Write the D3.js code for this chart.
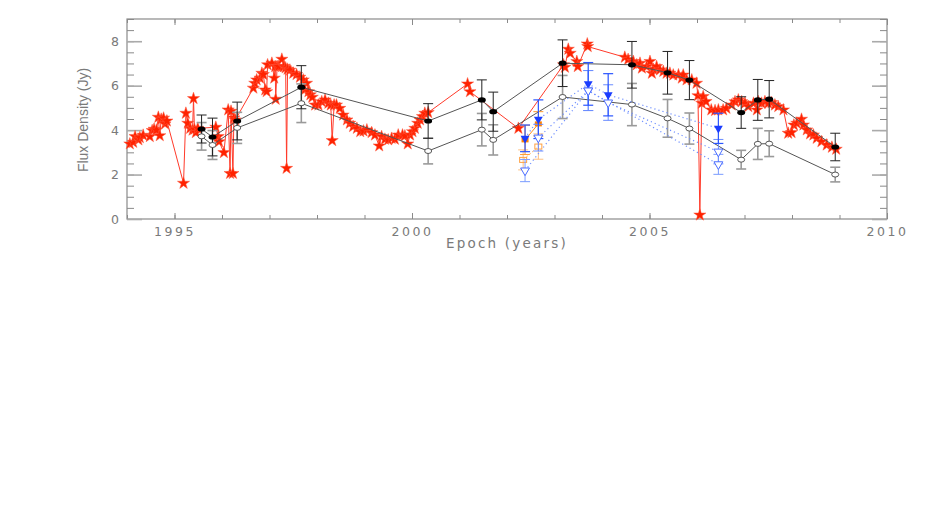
<!DOCTYPE html>
<html><head><meta charset="utf-8">
<script src="https://cdn.jsdelivr.net/npm/d3@7"></script>
<style>body{margin:0;background:#fff}svg{display:block}</style>
</head><body><svg id="c" width="926" height="518"></svg>
<script>
// ---- data ----
const epochs   = [1995.57,1995.80,1996.32,1997.67,2000.34,2001.47,2001.71,2003.17,2004.63,2005.38,2005.84,2006.93,2007.28,2007.52,2008.91];
const fluxTot  = [4.05,3.69,4.41,5.93,4.41,5.36,4.83,7.01,6.94,6.58,6.25,4.79,5.36,5.39,3.24];
const errTot   = [0.63,0.85,0.85,0.97,0.78,0.90,0.88,1.05,1.05,0.96,0.88,0.71,0.92,0.84,0.62];
const fluxCore = [3.72,3.33,4.10,5.21,3.06,4.02,3.56,5.49,5.15,4.53,4.07,2.67,3.38,3.39,2.00];
const errCore  = [0.62,0.65,0.70,0.87,0.58,0.73,0.68,0.97,0.95,0.85,0.70,0.42,0.70,0.58,0.33];

const blueEpochF = [2002.38,2002.66,2003.71,2004.13,2006.45];
const blueFluxF  = [3.63,4.49,6.08,5.59,4.08];
const blueErrF   = [0.60,0.87,0.96,0.95,0.68];
const blueEpochO = [2002.66,2003.71,2004.13,2006.45];
const blueFluxO  = [3.66,5.78,5.24,3.03];
const blueErrO   = [0.60,0.90,0.80,0.55];
const blueEpochO2= [2002.38,2003.71,2006.45];
const blueFluxO2 = [2.18,5.78,2.46];
const blueErrO2  = [0.50,0.90,0.45];

const orangeEpochF = [2002.38,2002.66];
const orangeFluxF  = [3.56,4.28];
const orangeErrF   = [0.66,0.55];
const orangeEpochO = [2002.34,2002.66];
const orangeFluxO  = [2.66,3.26];
const orangeErrO   = [0.45,0.57];

const redEpoch = [1994.06,1994.13,1994.17,1994.24,1994.27,1994.34,1994.48,1994.53,1994.57,1994.62,1994.66,1994.69,1994.72,1994.77,1994.80,1994.84,
 1995.19,1995.24,1995.28,1995.33,1995.38,1995.40,1995.42,1995.45,1995.49,1995.87,1995.92,1995.94,1996.04,1996.13,1996.17,1996.19,1996.23,1996.25,1996.28,
 1996.66,1996.69,1996.73,1996.80,1996.84,1996.87,1996.91,1996.94,1996.96,1997.05,1997.10,1997.12,1997.13,1997.16,1997.19,1997.26,1997.30,1997.34,1997.36,1997.38,
 1997.43,1997.50,1997.57,1997.64,1997.71,1997.74,1997.78,1997.82,1997.86,1997.90,1997.96,1998.03,1998.10,1998.17,1998.24,1998.29,1998.32,1998.36,1998.41,
 1998.48,1998.55,1998.63,1998.69,1998.76,1998.84,1998.91,1998.98,1999.05,1999.15,1999.22,1999.31,1999.36,1999.43,1999.50,1999.57,1999.64,1999.71,1999.80,
 1999.85,1999.91,1999.96,2000.01,2000.06,2000.12,2000.17,2000.22,2000.27,2000.34,2001.17,2001.22,2002.24,2003.19,2003.22,2003.29,2003.33,2003.47,2003.49,
 2003.69,2003.70,2004.48,2004.55,2004.66,2004.73,2004.80,2004.84,2004.94,2005.01,2005.05,2005.08,2005.15,2005.22,2005.29,2005.36,2005.43,2005.50,2005.61,
 2005.68,2005.71,2005.78,2005.89,2005.99,2006.02,2006.06,2006.10,2006.13,2006.19,2006.30,2006.38,2006.45,2006.55,2006.62,2006.73,2006.80,2006.87,2006.94,
 2007.01,2007.08,2007.19,2007.26,2007.29,2007.36,2007.43,2007.50,2007.57,2007.64,2007.71,2007.82,2007.92,2007.99,2008.04,2008.10,2008.20,2008.24,2008.31,
 2008.38,2008.45,2008.52,2008.62,2008.73,2008.84,2008.93];
const redFlux = [3.38,3.45,3.71,3.56,3.66,3.77,3.71,3.98,4.04,4.00,4.58,3.75,4.49,4.54,4.28,4.41,
 1.61,4.76,4.31,4.08,4.00,5.42,4.04,3.89,4.08,4.13,3.71,3.48,2.99,4.91,2.05,4.85,2.05,4.55,4.46,
 5.89,6.11,6.26,6.34,6.56,6.50,5.81,5.73,6.94,7.01,6.34,6.86,5.39,6.86,6.86,7.19,6.86,6.80,2.28,6.74,
 6.70,6.56,6.50,6.38,6.26,5.81,6.11,5.73,5.59,5.48,5.13,5.13,5.28,5.36,5.21,5.13,3.53,5.13,5.13,
 4.98,4.68,4.46,4.31,4.16,4.08,3.93,3.96,4.01,3.89,3.78,3.29,3.71,3.59,3.56,3.63,3.59,3.78,3.78,
 3.74,3.38,3.78,3.93,4.08,4.31,4.46,4.61,4.76,4.79,6.08,5.73,4.08,6.94,6.83,7.64,7.46,7.09,6.86,
 7.88,7.76,7.28,7.18,7.09,6.94,7.01,6.79,6.86,7.09,6.56,6.74,6.86,6.71,6.64,6.56,6.56,6.48,6.49,
 6.34,6.48,6.26,6.26,6.11,5.55,0.18,5.21,5.51,5.29,4.91,4.88,4.91,4.91,4.98,5.13,5.28,5.36,5.28,
 5.21,5.06,5.21,4.91,5.28,5.21,5.28,5.21,5.24,5.13,5.06,4.91,3.86,3.89,4.23,4.31,4.49,4.23,4.01,
 3.83,3.78,3.63,3.48,3.33,3.23,3.14];

const xMajor = [1995,2000,2005,2010];
const xMinor = d3.range(1994,2011,1);
const yMajor = [0,2,4,6,8];
const yMinor = d3.range(0,9.01,0.5);

// ---- layout ----
const svg = d3.select("#c");
const L=127,R=887,T=19,B=219;
const x = d3.scaleLinear().domain([1994,2010]).range([L,R]);
const y = d3.scaleLinear().domain([0,9]).range([B,T]);
const axisCol="#8a8a8a", textCol="#7a7a7a";

// frame
svg.append("rect").attr("x",L).attr("y",T).attr("width",R-L).attr("height",B-T)
  .attr("fill","none").attr("stroke",axisCol).attr("stroke-width",1.2);

function styleAxis(g){g.select(".domain").remove();g.selectAll("line").attr("stroke",axisCol);}
// x axes
svg.append("g").attr("transform",`translate(0,${B})`)
  .call(d3.axisBottom(x).tickValues(xMinor).tickSize(-4).tickFormat(""))
  .call(styleAxis);
svg.append("g").attr("transform",`translate(0,${B})`)
  .call(d3.axisBottom(x).tickValues(xMajor).tickSize(-6).tickPadding(8).tickFormat(d3.format("d")))
  .call(styleAxis)
  .call(g=>g.selectAll("text").attr("fill",textCol).attr("font-family","DejaVu Sans").attr("font-size",12.5).attr("letter-spacing","2.5px"));
svg.append("g").attr("transform",`translate(0,${T})`)
  .call(d3.axisTop(x).tickValues(xMinor).tickSize(-4).tickFormat("")).call(styleAxis);
svg.append("g").attr("transform",`translate(0,${T})`)
  .call(d3.axisTop(x).tickValues(xMajor).tickSize(-6).tickFormat("")).call(styleAxis);
// y axes
svg.append("g").attr("transform",`translate(${L},0)`)
  .call(d3.axisLeft(y).tickValues(yMinor).tickSize(-7).tickFormat("")).call(styleAxis);
svg.append("g").attr("transform",`translate(${L},0)`)
  .call(d3.axisLeft(y).tickValues(yMajor).tickSize(-15).tickPadding(8).tickFormat(d3.format("d")))
  .call(styleAxis)
  .call(g=>{g.selectAll("line").attr("stroke-width",1.6).attr("stroke","#aaa");
            g.selectAll("text").attr("fill",textCol).attr("font-family","DejaVu Sans").attr("font-size",12.5);});
svg.append("g").attr("transform",`translate(${R},0)`)
  .call(d3.axisRight(y).tickValues(yMinor).tickSize(-7).tickFormat("")).call(styleAxis);
svg.append("g").attr("transform",`translate(${R},0)`)
  .call(d3.axisRight(y).tickValues(yMajor).tickSize(-15).tickFormat("")).call(styleAxis)
  .call(g=>g.selectAll("line").attr("stroke-width",1.6).attr("stroke","#aaa"));

// titles
svg.append("text").attr("x",(L+R)/2).attr("y",248).attr("text-anchor","middle")
  .attr("font-family","DejaVu Sans").attr("font-size",13.5).attr("letter-spacing","2.2px")
  .attr("fill",textCol).text("Epoch (years)");
svg.append("text").attr("transform","translate(88,120) rotate(-90)").attr("text-anchor","middle")
  .attr("font-family","Liberation Sans Narrow, Liberation Sans").attr("font-size",14)
  .attr("fill",textCol).text("Flux Density (Jy)");

const plot = svg.append("g");
const line = d3.line().x(d=>x(d[0])).y(d=>y(d[1]));

function errBars(ex, fl, er, col, w){
  const g = plot.append("g").attr("stroke",col).attr("stroke-width",w);
  ex.forEach((e,i)=>{
    const cx=x(e), y1=y(fl[i]+er[i]), y2=y(fl[i]-er[i]);
    g.append("line").attr("x1",cx).attr("x2",cx).attr("y1",y1).attr("y2",y2);
    g.append("line").attr("x1",cx-5).attr("x2",cx+5).attr("y1",y1).attr("y2",y1);
    g.append("line").attr("x1",cx-5).attr("x2",cx+5).attr("y1",y2).attr("y2",y2);
  });
}
const zip=(a,b)=>a.map((v,i)=>[v,b[i]]);

// red star series
plot.append("path").datum(zip(redEpoch,redFlux)).attr("d",line)
  .attr("fill","none").attr("stroke","#ff3a2a").attr("stroke-width",1);
const star = d3.symbol().type(d3.symbolStar).size(46);
plot.append("g").selectAll("path").data(zip(redEpoch,redFlux)).join("path")
  .attr("d",star).attr("transform",d=>`translate(${x(d[0])},${y(d[1])})`)
  .attr("fill","#ff2200").attr("stroke","#ff5a40").attr("stroke-width",0.5);

// black / gray series
errBars(epochs,fluxCore,errCore,"#9a9a9a",1.6);
errBars(epochs,fluxTot,errTot,"#222",1);
plot.append("path").datum(zip(epochs,fluxTot)).attr("d",line).attr("fill","none").attr("stroke","#555").attr("stroke-width",1);
plot.append("path").datum(zip(epochs,fluxCore)).attr("d",line).attr("fill","none").attr("stroke","#555").attr("stroke-width",1);
plot.append("g").selectAll("ellipse").data(zip(epochs,fluxTot)).join("ellipse")
  .attr("cx",d=>x(d[0])).attr("cy",d=>y(d[1])).attr("rx",4).attr("ry",2.6).attr("fill","#000");
plot.append("g").selectAll("ellipse").data(zip(epochs,fluxCore)).join("ellipse")
  .attr("cx",d=>x(d[0])).attr("cy",d=>y(d[1])).attr("rx",3.5).attr("ry",2.5).attr("fill","#fff").attr("stroke","#444").attr("stroke-width",0.9);

// orange series
errBars(orangeEpochO,orangeFluxO,orangeErrO,"#ffc080",1);
errBars(orangeEpochF,orangeFluxF,orangeErrF,"#ff9a30",1);
plot.append("path").datum(zip(orangeEpochO,orangeFluxO)).attr("d",line).attr("fill","none").attr("stroke","#ffb060").attr("stroke-dasharray","2,2");
plot.append("path").datum(zip(orangeEpochF,orangeFluxF)).attr("d",line).attr("fill","none").attr("stroke","#ff9020");
plot.append("g").selectAll("rect").data(zip(orangeEpochF,orangeFluxF)).join("rect")
  .attr("x",d=>x(d[0])-3.5).attr("y",d=>y(d[1])-2.5).attr("width",7).attr("height",5).attr("fill","#ff8000");
plot.append("g").selectAll("rect").data(zip(orangeEpochO,orangeFluxO)).join("rect")
  .attr("x",d=>x(d[0])-3.5).attr("y",d=>y(d[1])-2.5).attr("width",7).attr("height",5).attr("fill","none").attr("stroke","#ffa040");

// blue series
errBars(blueEpochO2,blueFluxO2,blueErrO2,"#7a9cff",1);
errBars(blueEpochO,blueFluxO,blueErrO,"#6a8cff",1);
errBars(blueEpochF,blueFluxF,blueErrF,"#2a55ff",1.2);
[[blueEpochF,blueFluxF],[blueEpochO,blueFluxO],[blueEpochO2,blueFluxO2]].forEach(s=>{
  plot.append("path").datum(zip(s[0],s[1])).attr("d",line).attr("fill","none")
    .attr("stroke","#6f8fff").attr("stroke-width",1.2).attr("stroke-dasharray","1.2,3");
});
const tri = d3.symbol().type(d3.symbolTriangle).size(34);
plot.append("g").selectAll("path").data(zip(blueEpochF,blueFluxF)).join("path")
  .attr("d",tri).attr("transform",d=>`translate(${x(d[0])},${y(d[1])}) rotate(180)`).attr("fill","#1a3cff");
plot.append("g").selectAll("path").data(zip(blueEpochO,blueFluxO).concat(zip(blueEpochO2,blueFluxO2))).join("path")
  .attr("d",tri).attr("transform",d=>`translate(${x(d[0])},${y(d[1])}) rotate(180)`).attr("fill","#fff").attr("stroke","#4a6cff");
</script></body></html>
